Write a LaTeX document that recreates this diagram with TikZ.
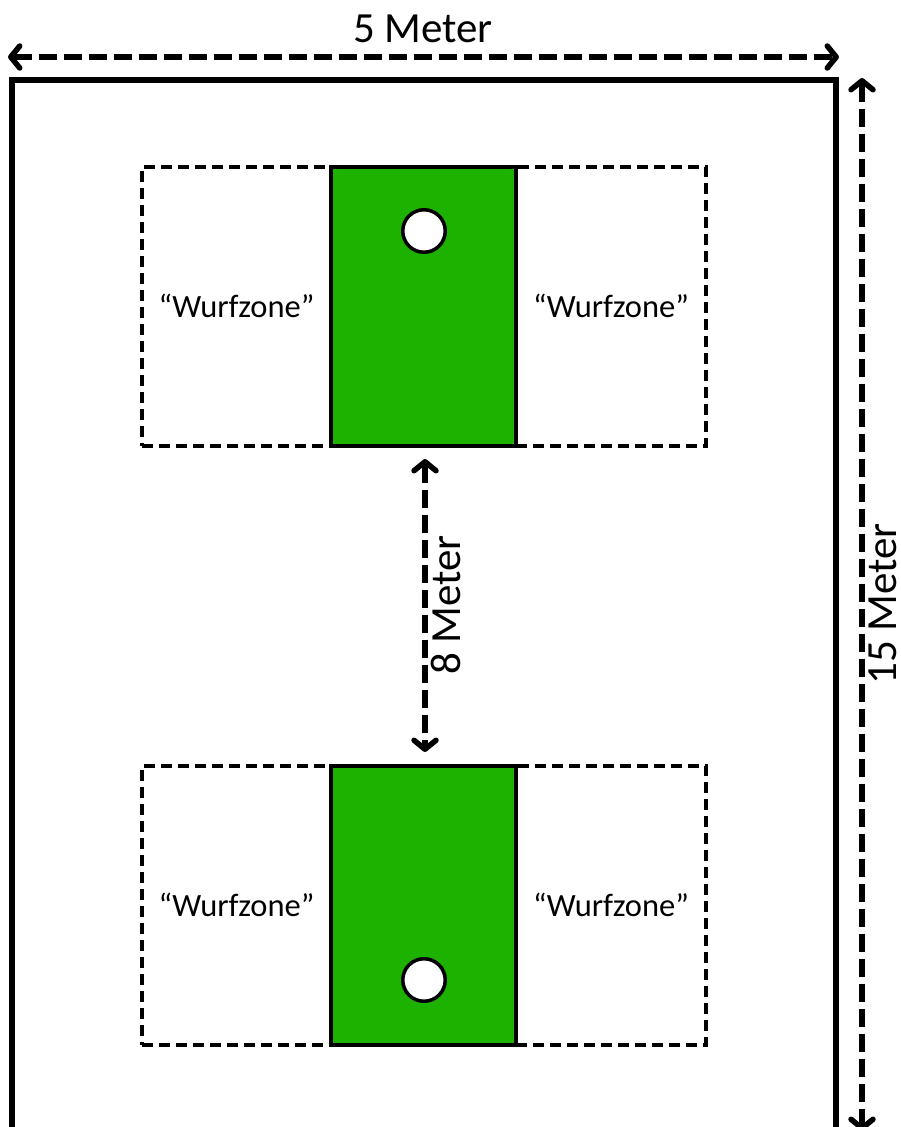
\documentclass[tikz,border=0pt]{standalone}
\usepackage{fontspec}
\setmainfont{Carlito}
\usetikzlibrary{arrows.meta}
\definecolor{fieldgreen}{RGB}{30,178,0}
\tikzset{
  zone/.style={draw, line width=3.5pt, dash pattern=on 11pt off 6pt, minimum width=564pt, minimum height=279pt, inner sep=0pt},
  board/.style={draw, fill=fieldgreen, line width=4pt, minimum width=185pt, minimum height=279pt, inner sep=0pt},
  hole/.style={draw, fill=white, circle, line width=3.5pt, minimum size=42.5pt, inner sep=0pt},
  dim/.style={line width=5.5pt, dash pattern=on 18pt off 7pt, {Straight Barb[length=9pt,width=22pt,round]}-{Straight Barb[length=9pt,width=22pt,round]}},
  lbl/.style={font=\fontsize{32.5}{38}\selectfont, inner sep=0pt},
  biglbl/.style={font=\fontsize{43}{50}\selectfont, inner sep=0pt},
  field/.style={line width=6.5pt}
}
\begin{document}
\begin{tikzpicture}[x=1pt,y=-1pt]
\useasboundingbox (0,0) rectangle (900,1127);
\clip (0,0) rectangle (900,1127);
% outer field
\coordinate (fbl) at (12,1150);
\coordinate (ftl) at (12,80);
\coordinate (ftr) at (836,80);
\coordinate (fbr) at (836,1150);
\draw[field] (fbl) -- (ftl) -- (ftr) -- (fbr);
% upper zone
\node[zone] (z1) at (424,306.5) {};
\node[board] (g1) at (423.5,306.5) {};
\node[hole] (h1) at (424,231) {};
\node[lbl] (w1) at (236.5,306) {“Wurfzone”};
\node[lbl] (w2) at (611,306) {“Wurfzone”};
% lower zone
\node[zone] (z2) at (424,905.5) {};
\node[board] (g2) at (423.5,905.5) {};
\node[hole] (h2) at (424,980) {};
\node[lbl] (w3) at (236.5,905) {“Wurfzone”};
\node[lbl] (w4) at (611,905) {“Wurfzone”};
% dimension: width
\coordinate (wl) at (8,57);
\coordinate (wr) at (839,57);
\draw[dim] (wl) -- (wr);
\node[biglbl] (t5) at (423,29) {5 Meter};
% dimension: length
\coordinate (lt) at (862,78);
\coordinate (lb) at (862,1131);
\draw[dim] (lt) -- (lb);
\node[biglbl, rotate=90] (t15) at (883,604) {15 Meter};
% dimension: distance
\coordinate (dt) at (425,459);
\coordinate (db) at (425,752);
\draw[dim] (dt) -- (db);
\node[biglbl, rotate=90] (t8) at (446,605) {8 Meter};
\end{tikzpicture}
\end{document}
